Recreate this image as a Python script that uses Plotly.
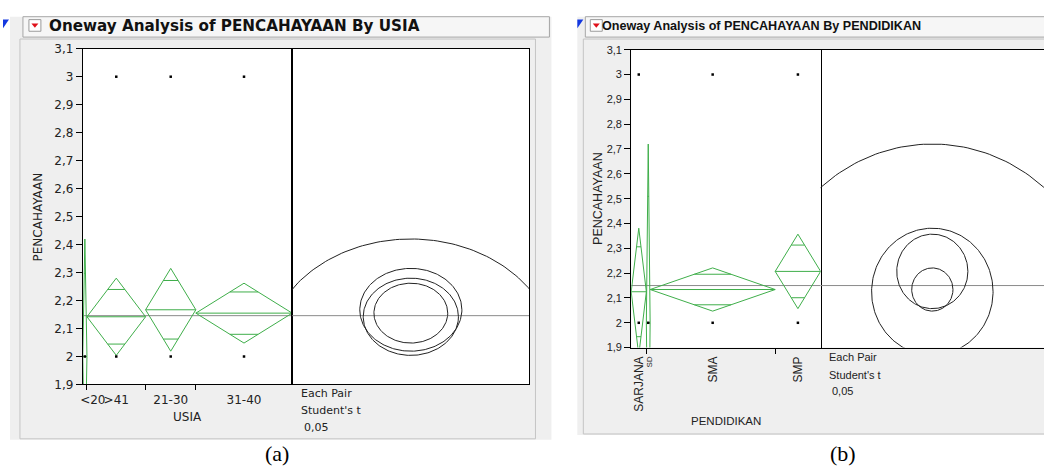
import math
import plotly.graph_objects as go

# ---------------- data ----------------
y_tick_vals = [1.9, 2.0, 2.1, 2.2, 2.3, 2.4, 2.5, 2.6, 2.7, 2.8, 2.9, 3.0, 3.1]
y_tick_text = ["1,9", "2", "2,1", "2,2", "2,3", "2,4", "2,5", "2,6", "2,7", "2,8", "2,9", "3", "3,1"]

usia_groups = ["<20", ">41", "21-30", "31-40"]
usia_n = [1, 14, 12, 23]
usia_mean = [2.00, 2.142, 2.167, 2.155]
usia_ci_half = [0.42, 0.138, 0.148, 0.107]
usia_grand_mean = 2.146
usia_pt_group = ["<20", ">41", ">41", "21-30", "21-30", "31-40", "31-40"]
usia_pt_value = [2, 3, 2, 3, 2, 3, 2]

pend_groups = ["SARJANA", "SD", "SMA", "SMP"]
pend_n = [4, 1, 33, 12]
pend_mean = [2.125, 2.00, 2.134, 2.207]
pend_ci_half = [0.256, 0.72, 0.087, 0.150]
pend_grand_mean = 2.150
pend_pt_group = ["SARJANA", "SARJANA", "SD", "SMA", "SMA", "SMP", "SMP"]
pend_pt_value = [3, 2, 2, 3, 2, 3, 2]

# ---------------- layout geometry (pixels) ----------------
W, H = 1044, 473
def px(x): return x / W
def py(y): return 1 - y / H

A = dict(x0=80, x1=290, x2=528, top=43, bot=389, aspect=1.2)
B = dict(x0=630, x1=820, x2=1044, top=44, bot=351, aspect=0.93)
YR = [1.9, 3.1]
GREEN = "#3fae4a"
SANS_A = "DejaVu Sans"
SANS_B = "Liberation Sans, Arial"

fig = go.Figure()

def band_info(ns):
    starts, s = [], 0
    for n in ns:
        starts.append(s)
        s += n
    return starts, s

def add_panel(xa, ya, xc, yc, groups, ns, means, halfs, grand, ptg, ptv):
    starts, total = band_info(ns)
    centers = [s + n / 2 for s, n in zip(starts, ns)]
    gx, gy = [], []
    for s, n, c, m, h in zip(starts, ns, centers, means, halfs):
        gx += [s, c, s + n, c, s, None]
        gy += [m, m + h, m, m - h, m, None]
        gx += [s, s + n, None]
        gy += [m, m, None]
        d = h / math.sqrt(2)
        w = n / 2 * (1 - d / h)
        for yy in (m + d, m - d):
            gx += [c - w, c + w, None]
            gy += [yy, yy, None]
    fig.add_trace(go.Scatter(x=[0, total], y=[grand, grand], mode="lines",
                             line=dict(color="#8a8a8a", width=1),
                             xaxis=xa, yaxis=ya, hoverinfo="skip", showlegend=False))
    fig.add_trace(go.Scatter(x=gx, y=gy, mode="lines", line=dict(color=GREEN, width=1),
                             xaxis=xa, yaxis=ya, hoverinfo="skip", showlegend=False))
    cmap = dict(zip(groups, centers))
    fig.add_trace(go.Scatter(x=[cmap[g] for g in ptg], y=ptv, mode="markers",
                             marker=dict(symbol="square", size=2.5, color="black"),
                             xaxis=xa, yaxis=ya, hoverinfo="skip", showlegend=False,
                             cliponaxis=False))
    fig.add_trace(go.Scatter(x=[-10, 10], y=[grand, grand], mode="lines",
                             line=dict(color="#8a8a8a", width=1),
                             xaxis=xc, yaxis=yc, hoverinfo="skip", showlegend=False))
    cx, cy = [], []
    for m, h in zip(means, halfs):
        for k in range(241):
            t = 2 * math.pi * k / 240
            cx.append(h * math.cos(t))
            cy.append(m + h * math.sin(t))
        cx.append(None)
        cy.append(None)
    fig.add_trace(go.Scatter(x=cx, y=cy, mode="lines", line=dict(color="#222222", width=1),
                             xaxis=xc, yaxis=yc, hoverinfo="skip", showlegend=False))
    return starts, total, centers

sa, ta, ca = add_panel("x", "y", "x2", "y2", usia_groups, usia_n, usia_mean, usia_ci_half,
                       usia_grand_mean, usia_pt_group, usia_pt_value)
sb, tb, cb = add_panel("x3", "y3", "x4", "y4", pend_groups, pend_n, pend_mean, pend_ci_half,
                       pend_grand_mean, pend_pt_group, pend_pt_value)

def circ_range(P):
    ppu_y = (P["bot"] - P["top"]) / (YR[1] - YR[0])
    ppu_x = ppu_y * P["aspect"]
    half = (P["x2"] - P["x1"]) / ppu_x / 2
    return [-half, half]

line_kw = dict(showline=True, linecolor="black", linewidth=1, mirror=True, showgrid=False,
               zeroline=False)

# label position for "<20" clamped so it does not cross the left axis
a_lab_pos = list(ca)
a_lab_pos[0] = max(ca[0], 2.4)

fig.update_layout(
    width=W, height=H, autosize=False, margin=dict(l=0, r=0, t=0, b=0, pad=0),
    paper_bgcolor="white", plot_bgcolor="rgba(0,0,0,0)", showlegend=False,
    xaxis=dict(domain=[px(A["x0"]), px(A["x1"])], range=[0, ta], anchor="y",
               tickmode="array", tickvals=a_lab_pos, ticktext=usia_groups, tickangle=0,
               ticks="outside", ticklen=4, tickcolor="rgba(0,0,0,0)",
               tickfont=dict(family=SANS_A, size=12, color="#222"),
               minor=dict(tickmode="array", tickvals=sa[1:], ticks="outside", ticklen=5,
                          tickcolor="black", showgrid=False),
               **line_kw),
    yaxis=dict(domain=[py(A["bot"]), py(A["top"])], range=YR, anchor="x",
               tickmode="array", tickvals=y_tick_vals, ticktext=y_tick_text,
               ticks="outside", ticklen=6, tickcolor="black",
               tickfont=dict(family=SANS_A, size=12, color="#222"), **line_kw),
    xaxis2=dict(domain=[px(A["x1"]), px(A["x2"])], range=circ_range(A), anchor="y2",
                showticklabels=False, ticks="", **line_kw),
    yaxis2=dict(domain=[py(A["bot"]), py(A["top"])], range=YR, anchor="x2",
                showticklabels=False, ticks="", **line_kw),
    xaxis3=dict(domain=[px(B["x0"]), px(B["x1"])], range=[0, tb], anchor="y3",
                tickmode="array", tickvals=cb,
                ticktext=[g if g != "SD" else "<span style='font-size:8px'>SD</span>" for g in pend_groups],
                tickangle=-90, ticks="outside", ticklen=3, tickcolor="rgba(0,0,0,0)",
                tickfont=dict(family=SANS_B, size=12, color="#222"),
                minor=dict(tickmode="array", tickvals=[sb[1], sb[3]], ticks="outside", ticklen=5,
                           tickcolor="black", showgrid=False),
                **line_kw),
    yaxis3=dict(domain=[py(B["bot"]), py(B["top"])], range=YR, anchor="x3",
                tickmode="array", tickvals=y_tick_vals, ticktext=y_tick_text,
                ticks="outside", ticklen=6, tickcolor="black",
                tickfont=dict(family=SANS_B, size=11, color="#222"), **line_kw),
    xaxis4=dict(domain=[px(B["x1"]), 1.0], range=circ_range(B), anchor="y4",
                showticklabels=False, ticks="", **line_kw),
    yaxis4=dict(domain=[py(B["bot"]), py(B["top"])], range=YR, anchor="x4",
                showticklabels=False, ticks="", showline=False, showgrid=False, zeroline=False),
)

shapes = []
def rect(x0, y0, x1, y1, fill="rgba(0,0,0,0)", line=None, lw=1):
    shapes.append(dict(type="rect", xref="paper", yref="paper", layer="below",
                       x0=px(x0), x1=px(x1), y0=py(y1), y1=py(y0), fillcolor=fill,
                       line=dict(color=line or "rgba(0,0,0,0)", width=lw if line else 0)))
def path(d, fill):
    shapes.append(dict(type="path", xref="paper", yref="paper", layer="below", path=d,
                       fillcolor=fill, line=dict(width=0)))
def pth(points):
    return "M " + " L ".join(f"{px(x):.5f},{py(y):.5f}" for x, y in points) + " Z"

for (gx0, gx1, gy1, inner_x0, inner_x1, tb_x0, tb_x1, bx, tri_x) in [
        (7, 550, 446, 17, 534, 20, 548, 26, 0),
        (576, 1044, 441, 582, 1060, 584, 1060, 589, 576)]:
    rect(gx0, 10, gx1, gy1, fill="#efefef")
    rect(inner_x0, 33, inner_x1, gy1 - 1, line="#c4c4c4")
    rect(tb_x0, 10, tb_x1, 31, fill="#f6f6f6", line="#a6a6a6")
    rect(bx, 13, bx + 12, 25, fill="white", line="#9a9a9a")
    path(pth([(bx + 2.5, 17), (bx + 9.5, 17), (bx + 6, 21.5)]), "#e0101a")
    path(pth([(tri_x, 13), (tri_x + 6, 13), (tri_x, 22)]), "#1438e0")
rect(A["x0"], A["top"], A["x2"], A["bot"], fill="white")
rect(B["x0"], B["top"], 1044, B["bot"], fill="white")
fig.update_layout(shapes=shapes)

ann = []
def text(x, y, s, size, family, xanchor="left", bold=False, angle=0, color="#222"):
    ann.append(dict(x=px(x), y=py(y), xref="paper", yref="paper", text=f"<b>{s}</b>" if bold else s,
                    showarrow=False, xanchor=xanchor, yanchor="middle", textangle=angle,
                    font=dict(size=size, family=family, color=color)))

text(44, 20, "Oneway Analysis of PENCAHAYAAN By USIA", 15.2, SANS_A, bold=True, color="#111")
text(599, 20, "Oneway Analysis of PENCAHAYAAN By PENDIDIKAN", 12.6, SANS_B, bold=True, color="#111")
text(35, (A["top"] + A["bot"]) / 2, "PENCAHAYAAN", 12, SANS_A, xanchor="center", angle=-90)
text(596, (B["top"] + B["bot"]) / 2, "PENCAHAYAAN", 12.5, SANS_B, xanchor="center", angle=-90)
text((A["x0"] + A["x1"]) / 2, 423, "USIA", 12, SANS_A, xanchor="center")
text((B["x0"] + B["x1"]) / 2, 427, "PENDIDIKAN", 11.5, SANS_B, xanchor="center")
for (x, y0, fam, sz) in [(297, 398, SANS_A, 11), (826, 361, SANS_B, 11)]:
    text(x, y0, "Each Pair", sz, fam)
    text(x, y0 + 18, "Student's t", sz, fam)
    text(x + 3, y0 + 35, "0,05", sz, fam)
text(275, 460, "(a)", 22, "Liberation Serif", xanchor="center", color="black")
text(842, 460, "(b)", 22, "Liberation Serif", xanchor="center", color="black")
fig.update_layout(annotations=ann)

fig.write_html(
    "out.html",
    config={"responsive": False, "displayModeBar": False},
    post_script="document.documentElement.style.overflow='hidden';"
                "document.documentElement.style.margin='0px';"
                "document.body.style.margin='0px';document.body.style.padding='0px';"
                "document.body.style.overflow='hidden';"
                "var gd=document.getElementById('{plot_id}');"
                "gd.style.position='fixed';gd.style.left='0px';gd.style.top='0px';",
)
